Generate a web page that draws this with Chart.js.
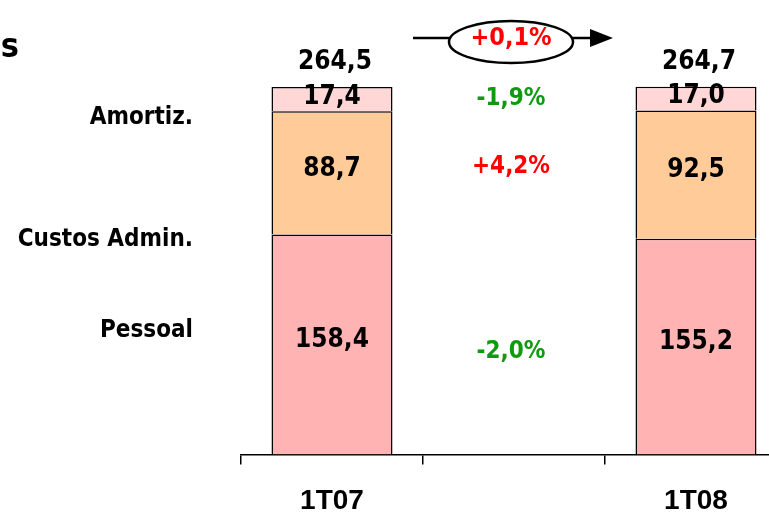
<!DOCTYPE html>
<html>
<head>
<meta charset="utf-8">
<script src="https://cdn.jsdelivr.net/npm/chart.js@4.4.1/dist/chart.umd.min.js"></script>
<style>
    html, body { margin: 0; padding: 0; background: #fff; overflow: hidden; }
    #wrap { position: relative; width: 800px; height: 540px; }
</style>
</head>
<body>
<div id="wrap"><canvas id="costChart"></canvas></div>
<script>
// Data
const categories = ['1T07', '', '1T08'];
const pessoal = [158.4, null, 155.2];
const custosAdmin = [88.7, null, 92.5];
const amortiz = [17.4, null, 17.0];
const totals = [264.5, null, 264.7];
const seriesNames = ['Pessoal', 'Custos Admin.', 'Amortiz.'];
const changes = ['-2,0%', '+4,2%', '-1,9%'];
const totalChange = '+0,1%';

const FONT = "'DejaVu Sans Condensed', 'DejaVu Sans', sans-serif";
const green = '#109a10';
const red = '#ff0000';

function fmt(v) {
    return v.toFixed(1).replace('.', ',');
}

// Labels, change column and arrow
const labelPlugin = {
    id: 'labels',
    afterDatasetsDraw(chart) {
        const ctx = chart.ctx;
        const x = chart.scales.x;
        ctx.save();
        ctx.textAlign = 'center';
        ctx.textBaseline = 'middle';

        // segment values
        ctx.fillStyle = '#000';
        ctx.font = 'bold 26px ' + FONT;
        chart.data.datasets.forEach(function (ds, di) {
            const meta = chart.getDatasetMeta(di);
            meta.data.forEach(function (bar, i) {
                if (ds.data[i] == null) return;
                const mid = (bar.y + bar.base) / 2;
                const off = di === 2 ? -2 : -4;
                ctx.fillText(fmt(ds.data[i]), bar.x, mid + off);
            });
        });

        // totals above the bars
        const top = chart.getDatasetMeta(2);
        totals.forEach(function (t, i) {
            if (t == null) return;
            ctx.fillText(fmt(t), top.data[i].x + 3, top.data[i].y - 25);
        });

        // change column
        const cx = x.getPixelForValue(1) - 3;
        ctx.font = 'bold 24px ' + FONT;
        changes.forEach(function (c, di) {
            const meta = chart.getDatasetMeta(di);
            const a = meta.data[0], b = meta.data[2];
            let y = ((a.y + a.base) / 2 + (b.y + b.base) / 2) / 2;
            if (di === 0) y += 6;
            if (di === 1) y -= 7;
            ctx.fillStyle = c.charAt(0) === '-' ? green : red;
            ctx.fillText(c, cx, y);
        });

        // total change in ellipse with arrow
        const ey = 42, rx = 62, ry = 21, ly = 38;
        ctx.strokeStyle = '#000';
        ctx.lineWidth = 2.5;
        ctx.beginPath();
        ctx.ellipse(cx, ey, rx, ry, 0, 0, Math.PI * 2);
        ctx.stroke();
        const dx = rx * Math.sqrt(1 - Math.pow((ly - ey) / ry, 2));
        ctx.beginPath();
        ctx.moveTo(413, ly);
        ctx.lineTo(cx - dx, ly);
        ctx.moveTo(cx + dx, ly);
        ctx.lineTo(595, ly);
        ctx.stroke();
        ctx.fillStyle = '#000';
        ctx.beginPath();
        ctx.moveTo(613, ly);
        ctx.lineTo(590, ly - 9);
        ctx.lineTo(590, ly + 9);
        ctx.closePath();
        ctx.fill();
        ctx.fillStyle = red;
        ctx.font = 'bold 25px ' + FONT;
        ctx.fillText(totalChange, cx, ly);

        // series names on the left
        ctx.fillStyle = '#000';
        ctx.textAlign = 'right';
        ctx.font = 'bold 24px ' + FONT;
        ctx.fillText(seriesNames[2], 193, 118);
        ctx.fillText(seriesNames[1], 193, 240);
        ctx.fillText(seriesNames[0], 193, 331);

        // cut-off title
        ctx.font = 'bold 34px ' + FONT;
        ctx.fillText('s', 19, 48);
        ctx.restore();
    }
};

new Chart(document.getElementById('costChart'), {
    type: 'bar',
    data: {
        labels: categories,
        datasets: [
            { label: seriesNames[0], data: pessoal, backgroundColor: '#ffb3b3' },
            { label: seriesNames[1], data: custosAdmin, backgroundColor: '#ffcc99' },
            { label: seriesNames[2], data: amortiz, backgroundColor: '#ffd7d7' }
        ].map(function (d) {
            return Object.assign(d, {
                borderColor: '#000',
                borderWidth: 1.5,
                categoryPercentage: 1,
                barPercentage: 0.665
            });
        })
    },
    options: {
        responsive: true,
        maintainAspectRatio: false,
        animation: false,
        layout: { padding: { left: 241, right: 13, top: 10, bottom: 2 } },
        plugins: {
            legend: { display: false },
            tooltip: { enabled: false }
        },
        scales: {
            x: {
                stacked: true,
                grid: {
                    drawOnChartArea: false,
                    drawTicks: true,
                    tickLength: 10,
                    color: '#000',
                    lineWidth: 1.5
                },
                border: { display: true, color: '#000', width: 1.5 },
                ticks: {
                    color: '#000',
                    padding: 20,
                    font: { family: "'Liberation Sans', Arial, sans-serif", size: 28, weight: 'bold' }
                }
            },
            y: {
                stacked: true,
                display: false,
                min: 0,
                max: 320
            }
        }
    },
    plugins: [labelPlugin]
});
</script>
</body>
</html>
